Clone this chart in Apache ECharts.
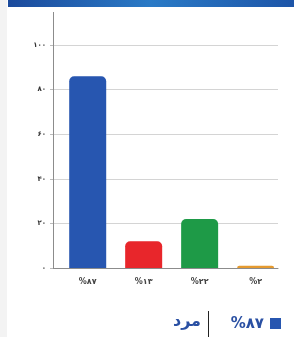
<!DOCTYPE html>
<html>
<head>
<meta charset="utf-8">
<style>
  html, body { margin: 0; padding: 0; background: #fff; }
  #chart { width: 294px; height: 337px; }
</style>
<script src="https://cdn.jsdelivr.net/npm/echarts@6/dist/echarts.min.js"></script>
</head>
<body>
<div id="chart"></div>
<script>
var categories = ["%۸۷", "%۱۳", "%۲۲", "%۲"];
var values = [86, 12, 22, 1];
var barColors = ["#2756b0", "#e8262b", "#1e9a47", "#e59a2f"];
var yTicks = { 0: "۰", 20: "۲۰", 40: "۴۰", 60: "۶۰", 80: "۸۰", 100: "۱۰۰" };
var legendValue = "%۸۷";
var legendLabel = "مرد";

var font = "'DejaVu Sans', sans-serif";
var chart = echarts.init(document.getElementById("chart"));

var option = {
    backgroundColor: "#fff",
    animation: false,
    textStyle: { fontFamily: font },
    grid: { left: 53, right: 16, top: 45, bottom: 69 },
    xAxis: {
        type: "value",
        min: -0.62,
        max: 3.4,
        axisLine: { show: true, onZero: false, lineStyle: { color: "#8c8c8c", width: 1 } },
        axisTick: { show: false },
        splitLine: { show: false },
        axisLabel: {
            color: "#444", fontSize: 8, fontWeight: "bold", margin: 10, fontFamily: font,
            customValues: [0, 1, 2, 3],
            formatter: function (v) { return categories[v]; }
        }
    },
    yAxis: {
        type: "value",
        min: 0,
        max: 100,
        interval: 20,
        axisLine: { show: true, onZero: false, lineStyle: { color: "#8c8c8c", width: 1 } },
        axisTick: { show: true, length: 3, lineStyle: { color: "#bbb" } },
        splitLine: { lineStyle: { color: "#d4d4d4" } },
        axisLabel: {
            color: "#333", fontSize: 7, fontWeight: "bold", margin: 7, fontFamily: font,
            formatter: function (v) { return yTicks[v]; }
        }
    },
    series: [{
        type: "bar",
        barWidth: 37,
        data: values.map(function (v, i) {
            return { value: [i, v], itemStyle: { color: barColors[i], borderRadius: [5, 5, 0, 0] } };
        })
    }],
    graphic: [
        {
            type: "rect",
            shape: { x: 8, y: 0, width: 286, height: 7 },
            style: {
                fill: new echarts.graphic.LinearGradient(0, 0, 1, 0, [
                    { offset: 0, color: "#1b4a9c" },
                    { offset: 0.5, color: "#2a7ac6" },
                    { offset: 1, color: "#1d55a8" }
                ])
            }
        },
        {
            type: "rect",
            shape: { x: 0, y: 0, width: 7, height: 337 },
            style: { fill: "#f3f3f3" }
        },
        {
            type: "line",
            shape: { x1: 53.5, y1: 12, x2: 53.5, y2: 45 },
            style: { stroke: "#8c8c8c", lineWidth: 1 }
        },
        {
            type: "rect",
            shape: { x: 270, y: 318, width: 11, height: 11 },
            style: { fill: "#2756b0" }
        },
        {
            type: "text",
            x: 264, y: 324,
            style: {
                text: legendValue, fill: "#2a50a3", font: "bold 15px " + font,
                align: "right", verticalAlign: "middle"
            }
        },
        {
            type: "line",
            shape: { x1: 208.5, y1: 311, x2: 208.5, y2: 337 },
            style: { stroke: "#222", lineWidth: 1 }
        },
        {
            type: "text",
            x: 201, y: 322,
            style: {
                text: legendLabel, fill: "#2a50a3", font: "bold 16px " + font,
                align: "right", verticalAlign: "middle"
            }
        }
    ]
};

chart.setOption(option);
</script>
</body>
</html>
